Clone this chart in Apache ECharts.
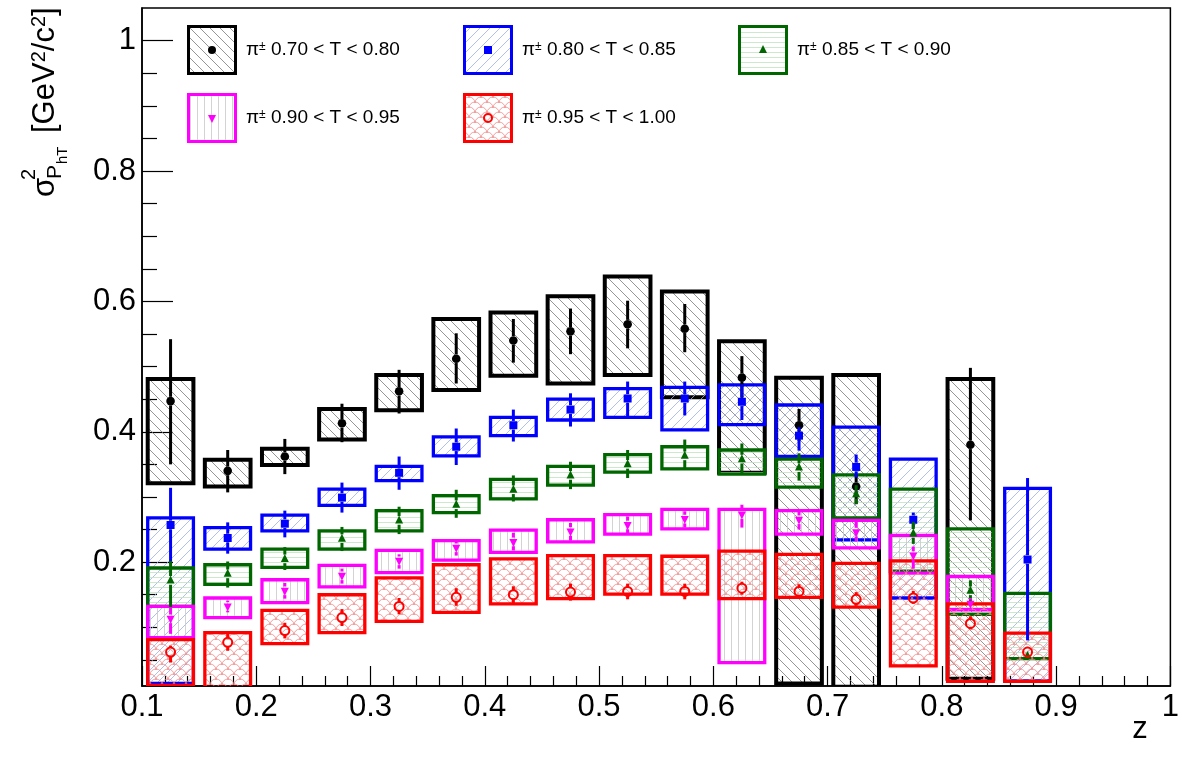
<!DOCTYPE html>
<html><head><meta charset="utf-8">
<script src="https://cdn.jsdelivr.net/npm/echarts@6/dist/echarts.min.js"></script>
<style>html,body{margin:0;padding:0;background:#fff}#c{width:1182px;height:763px}</style>
</head><body><div id="c"></div>
<script>
// ---------------- DATA ----------------
const zBins = [0.125,0.175,0.225,0.275,0.325,0.375,0.425,0.475,0.525,0.575,0.625,0.675,0.725,0.775,0.825,0.875];
const yMajorTicks = [0.2,0.4,0.6,0.8,1.0];
const yMinorTicks = [0.05,0.1,0.15,0.25,0.3,0.35,0.45,0.5,0.55,0.65,0.7,0.75,0.85,0.9,0.95];
const seriesNames = ['0.70 < T < 0.80','0.80 < T < 0.85','0.85 < T < 0.90','0.90 < T < 0.95','0.95 < T < 1.00'];

// 0.70 < T < 0.80
const t070_val    = [0.447,0.340,0.362,0.413,0.462,0.512,0.540,0.554,0.565,0.558,0.483,0.410,0.316,null,0.380,null];
const t070_statHi = [0.542,0.372,0.389,0.443,0.495,0.551,0.573,0.589,0.601,0.596,0.516,0.435,0.335,null,0.498,null];
const t070_statLo = [0.350,0.307,0.335,0.384,0.428,0.474,0.506,0.519,0.528,0.522,0.452,0.386,0.289,null,0.264,null];
const t070_sysHi  = [0.481,0.357,0.374,0.435,0.487,0.573,0.583,0.608,0.638,0.615,0.539,0.483,0.487,null,0.481,null];
const t070_sysLo  = [0.321,0.316,0.349,0.388,0.433,0.464,0.486,0.474,0.487,0.453,0.337,0.014,0.009,null,0.021,null];
// 0.80 < T < 0.85
const t080_val    = [0.257,0.237,0.259,0.299,0.337,0.377,0.410,0.434,0.451,0.451,0.446,0.394,0.346,0.265,null,0.204];
const t080_statHi = [0.314,0.261,0.279,0.322,0.362,0.405,0.434,0.459,0.477,0.477,0.473,0.407,0.365,0.276,null,0.329];
const t080_statLo = [0.198,0.213,0.238,0.276,0.311,0.349,0.385,0.408,0.421,0.425,0.418,0.371,0.330,0.253,null,0.080];
const t080_sysHi  = [0.268,0.253,0.272,0.312,0.347,0.392,0.422,0.450,0.466,0.468,0.472,0.441,0.407,0.358,null,0.313];
const t080_sysLo  = [0.014,0.220,0.248,0.287,0.325,0.363,0.394,0.418,0.422,0.403,0.411,0.362,0.234,0.145,null,0.018];
// 0.85 < T < 0.90
const t085_val    = [0.172,0.182,0.205,0.236,0.264,0.288,0.311,0.333,0.350,0.363,0.358,0.345,0.304,0.244,0.156,0.056];
const t085_statHi = [0.202,0.201,0.223,0.254,0.285,0.311,0.333,0.354,0.372,0.388,0.382,0.367,0.318,0.262,0.172,0.062];
const t085_statLo = [0.131,0.161,0.188,0.217,0.243,0.268,0.293,0.312,0.329,0.343,0.336,0.325,0.289,0.228,0.140,0.050];
const t085_sysHi  = [0.191,0.196,0.220,0.248,0.279,0.302,0.327,0.347,0.365,0.377,0.372,0.358,0.334,0.312,0.251,0.152];
const t085_sysLo  = [0.132,0.166,0.192,0.220,0.248,0.276,0.297,0.318,0.338,0.343,0.335,0.315,0.268,0.186,0.120,0.052];
// 0.90 < T < 0.95
const t090_val    = [0.113,0.132,0.156,0.179,0.202,0.222,0.231,0.247,0.257,0.266,0.273,0.265,0.246,0.210,0.136,null];
const t090_statHi = [0.131,0.141,0.168,0.190,0.212,0.233,0.245,0.260,0.270,0.278,0.288,0.280,0.262,0.224,0.145,null];
const t090_statLo = [0.090,0.123,0.144,0.167,0.190,0.210,0.218,0.233,0.243,0.253,0.253,0.250,0.232,0.190,0.127,null];
const t090_sysHi  = [0.132,0.145,0.173,0.195,0.218,0.233,0.249,0.265,0.273,0.281,0.281,0.279,0.264,0.241,0.178,null];
const t090_sysLo  = [0.084,0.115,0.138,0.162,0.184,0.203,0.215,0.231,0.243,0.251,0.046,0.243,0.222,0.183,0.127,null];
// 0.95 < T < 1.00
const t095_val    = [0.062,0.077,0.095,0.115,0.132,0.146,0.150,0.154,0.155,0.155,0.160,0.155,0.143,0.145,0.106,0.062];
const t095_statHi = [0.072,0.090,0.107,0.128,0.145,0.160,0.163,0.167,0.167,0.167,0.170,0.166,0.154,0.156,0.117,0.070];
const t095_statLo = [0.046,0.064,0.083,0.102,0.120,0.133,0.137,0.141,0.143,0.143,0.150,0.146,0.133,0.136,0.097,0.054];
const t095_sysHi  = [0.081,0.092,0.126,0.150,0.176,0.196,0.205,0.210,0.210,0.209,0.217,0.212,0.198,0.202,0.136,0.091];
const t095_sysLo  = [0.011,0.008,0.075,0.092,0.109,0.123,0.136,0.144,0.151,0.151,0.144,0.146,0.131,0.041,0.017,0.017];

// ---------------- STYLE ----------------
const FONT = '"Liberation Sans", Arial, Helvetica, sans-serif';
const BOX_HALF = 0.02;
const sets = [
  {val:t070_val, hi:t070_statHi, lo:t070_statLo, shi:t070_sysHi, slo:t070_sysLo},
  {val:t080_val, hi:t080_statHi, lo:t080_statLo, shi:t080_sysHi, slo:t080_sysLo},
  {val:t085_val, hi:t085_statHi, lo:t085_statLo, shi:t085_sysHi, slo:t085_sysLo},
  {val:t090_val, hi:t090_statHi, lo:t090_statLo, shi:t090_sysHi, slo:t090_sysLo},
  {val:t095_val, hi:t095_statHi, lo:t095_statLo, shi:t095_sysHi, slo:t095_sysLo}
];
const styles = [
  {color:'#000000', hatch:'bslash', hatchColor:'#7a7a7a', marker:'dot',     lw:4},
  {color:'#0000ff', hatch:'slash',  hatchColor:'#9eaee2', marker:'square',  lw:3.3},
  {color:'#006600', hatch:'horiz',  hatchColor:'#c2e2c2', marker:'tri',     lw:3.3},
  {color:'#ff00ff', hatch:'vert',   hatchColor:'#c8c8c8', marker:'tridown', lw:3.3},
  {color:'#ff0000', hatch:'scales', hatchColor:'#f08a8a', marker:'ocircle', lw:3.3}
];
const legendPos = [[187,25],[463,25],[738,25],[187,93],[463,93]];

function hatchCanvas(kind, col){
  const c = document.createElement('canvas');
  let w = 10, h = 10;
  if (kind === 'horiz') { w = 6; h = 5; }
  if (kind === 'vert') { w = 7; h = 6; }
  if (kind === 'scales') { w = 12; h = 10; }
  c.width = w; c.height = h;
  const g = c.getContext('2d');
  g.strokeStyle = col; g.lineWidth = 0.8;
  if (kind === 'bslash') { g.beginPath(); for (const o of [-w,0,w]) { g.moveTo(o,0); g.lineTo(o+w,h); } g.stroke(); }
  if (kind === 'slash')  { g.beginPath(); for (const o of [-w,0,w]) { g.moveTo(o,h); g.lineTo(o+w,0); } g.stroke(); }
  if (kind === 'horiz')  { g.beginPath(); g.moveTo(0,2.5); g.lineTo(w,2.5); g.stroke(); }
  if (kind === 'vert')   { g.beginPath(); g.moveTo(3.5,0); g.lineTo(3.5,h); g.stroke(); }
  if (kind === 'scales') {
    const r = w/2;
    for (let i=-1;i<=3;i++) for (let j=-1;j<=4;j++) {
      if (((i+j)%2+2)%2 !== 1) continue;
      const cx = i*w/2, cy = j*h/2;
      g.beginPath(); g.moveTo(cx - r, cy); g.arc(cx, cy, r, Math.PI, 2*Math.PI); g.stroke();
    }
  }
  return c;
}
const patterns = styles.map(s => hatchCanvas(s.hatch, s.hatchColor));

function markerShape(kind, cx, cy, color){
  const s = 4;
  if (kind === 'dot') return {type:'circle', shape:{cx, cy, r:s+0.3}, style:{fill:color}};
  if (kind === 'square') return {type:'rect', shape:{x:cx-s, y:cy-s, width:2*s, height:2*s}, style:{fill:color}};
  if (kind === 'tri') return {type:'polygon', shape:{points:[[cx,cy-s-1],[cx+s,cy+s-1],[cx-s,cy+s-1]]}, style:{fill:color}};
  if (kind === 'tridown') return {type:'polygon', shape:{points:[[cx,cy+s+1],[cx+s,cy-s+1],[cx-s,cy-s+1]]}, style:{fill:color}};
  return {type:'circle', shape:{cx, cy, r:s+0.5}, style:{fill:'none', stroke:color, lineWidth:2}};
}

function legendIcon(i){
  const st = styles[i];
  const c = document.createElement('canvas'); c.width = 50; c.height = 50;
  const g = c.getContext('2d');
  g.fillStyle = g.createPattern(patterns[i], 'repeat');
  g.fillRect(2,2,46,46);
  g.strokeStyle = st.color; g.lineWidth = 3; g.strokeRect(1.5,1.5,47,47);
  g.fillStyle = st.color; g.strokeStyle = st.color;
  const cx = 25, cy = 25, s = 4;
  g.beginPath();
  if (st.marker === 'dot') { g.arc(cx,cy,s,0,2*Math.PI); g.fill(); }
  else if (st.marker === 'square') { g.fillRect(cx-s,cy-s,2*s,2*s); }
  else if (st.marker === 'tri') { g.moveTo(cx,cy-s-1); g.lineTo(cx+s,cy+s-1); g.lineTo(cx-s,cy+s-1); g.closePath(); g.fill(); }
  else if (st.marker === 'tridown') { g.moveTo(cx,cy+s+1); g.lineTo(cx+s,cy-s+1); g.lineTo(cx-s,cy-s+1); g.closePath(); g.fill(); }
  else { g.lineWidth = 2; g.arc(cx,cy,s,0,2*Math.PI); g.stroke(); }
  return 'image://' + c.toDataURL();
}

const series = [];
// boxes (systematic)
sets.forEach((d, i) => {
  const st = styles[i];
  const data = [];
  zBins.forEach((z, k) => { if (d.val[k] != null) data.push([z, d.slo[k], d.shi[k]]); });
  series.push({
    type:'custom', name: seriesNames[i], coordinateSystem:'cartesian2d', clip:true, z:2,
    data,
    renderItem(params, api){
      const z = api.value(0), lo = api.value(1), hi = api.value(2);
      const p1 = api.coord([z - BOX_HALF, hi]);
      const p2 = api.coord([z + BOX_HALF, lo]);
      return {type:'rect', shape:{x:p1[0], y:p1[1], width:p2[0]-p1[0], height:p2[1]-p1[1]},
        style:{fill:{image:patterns[i], repeat:'repeat'}, stroke:st.color, lineWidth:st.lw}};
    }
  });
});
// points with statistical error bars
sets.forEach((d, i) => {
  const st = styles[i];
  const data = [];
  zBins.forEach((z, k) => { if (d.val[k] != null) data.push([z, d.val[k], d.lo[k], d.hi[k]]); });
  series.push({
    type:'custom', name: seriesNames[i], coordinateSystem:'cartesian2d', clip:true, z:3,
    data,
    renderItem(params, api){
      const p = api.coord([api.value(0), api.value(1)]);
      const pl = api.coord([api.value(0), api.value(2)]);
      const ph = api.coord([api.value(0), api.value(3)]);
      const r = 4.3;
      const children = [];
      if (p[1] - r > ph[1]) children.push({type:'line', shape:{x1:p[0], y1:ph[1], x2:p[0], y2:p[1]-r}, style:{stroke:st.color, lineWidth:3}});
      if (pl[1] > p[1] + r) children.push({type:'line', shape:{x1:p[0], y1:p[1]+r, x2:p[0], y2:pl[1]}, style:{stroke:st.color, lineWidth:3}});
      children.push(markerShape(st.marker, p[0], p[1], st.color));
      return {type:'group', children};
    }
  });
});

const legends = seriesNames.map((n, i) => ({
  show:true, left:legendPos[i][0], top:legendPos[i][1], padding:0, itemWidth:50, itemHeight:50,
  selectedMode:false, data:[{name:n, icon:legendIcon(i)}],
  formatter: name => '{pi|π}{pm|±}{t| ' + name + '}',
  textStyle:{color:'#000', fontFamily:FONT, fontSize:19,
    rich:{pi:{fontSize:19, fontFamily:FONT, color:'#000', padding:[0,0,0,4]},
          pm:{fontSize:12, fontFamily:FONT, color:'#000', verticalAlign:'top'},
          t:{fontSize:19, fontFamily:FONT, color:'#000'}}}
}));

const txt = (text, x, y, size, extra) => Object.assign({type:'text', x, y,
  style:Object.assign({text, fontSize:size, fontFamily:FONT, fill:'#000', align:'left', verticalAlign:'middle',
    textAlign:'left', textVerticalAlign:'middle'}, extra || {})});

const option = {
  animation:false,
  backgroundColor:'#fff',
  grid:{left:142, right:11, top:8, bottom:77, show:true, borderColor:'#000', borderWidth:1.5, backgroundColor:'transparent'},
  xAxis:{type:'value', min:0.1, max:1.0, interval:0.1,
    axisLine:{show:true, onZero:false, lineStyle:{color:'#000', width:1.5}},
    axisTick:{show:true, inside:true, length:20, lineStyle:{color:'#000', width:1.2}},
    minorTick:{show:true, splitNumber:5, length:10, lineStyle:{color:'#000', width:1.2}},
    axisLabel:{color:'#000', fontSize:31, fontFamily:FONT, margin:6},
    splitLine:{show:false}, minorSplitLine:{show:false}},
  yAxis:[
    {type:'value', min:0.01, max:1.05, position:'left',
      axisLine:{show:true, onZero:false, lineStyle:{color:'#000', width:1.5}},
      axisTick:{show:true, inside:true, length:31, customValues:yMajorTicks, lineStyle:{color:'#000', width:1.2}},
      axisLabel:{color:'#000', fontSize:31, fontFamily:FONT, margin:6, customValues:yMajorTicks},
      splitLine:{show:false}},
    {type:'value', min:0.01, max:1.05, position:'left', offset:0,
      axisLine:{show:false},
      axisTick:{show:true, inside:true, length:15, customValues:yMinorTicks, lineStyle:{color:'#000', width:1.2}},
      axisLabel:{show:false}, splitLine:{show:false}}
  ],
  legend:legends,
  graphic:[
    {type:'group', x:55, y:197, rotation:Math.PI/2, children:[
      txt('σ', 0, -10, 31),
      txt('2', 17, -26, 20),
      txt('P', 18, 0, 21),
      txt('hT', 33, 8, 15),
      {type:'text', x:64, y:-10, style:{text:'[GeV{s|2}/c{s|2}]', fontSize:31, fontFamily:FONT, fill:'#000',
        align:'left', verticalAlign:'middle', textAlign:'left', textVerticalAlign:'middle',
        rich:{s:{fontSize:20, fontFamily:FONT, fill:'#000', verticalAlign:'top'}}}}
    ]},
    txt('z', 1140, 729, 31, {align:'center', textAlign:'center'})
  ],
  series
};
const chart = echarts.init(document.getElementById('c'), null, {renderer:'canvas'});
chart.setOption(option);
</script></body></html>
